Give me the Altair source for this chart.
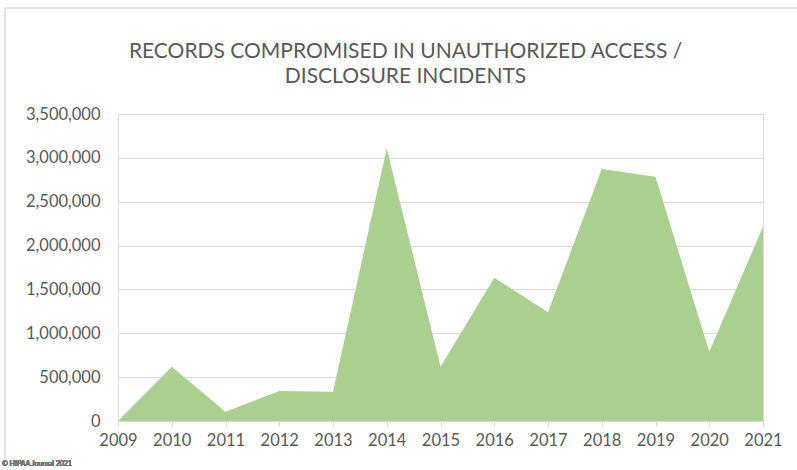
import altair as alt
import pandas as pd

years = [2009, 2010, 2011, 2012, 2013, 2014, 2015, 2016, 2017, 2018, 2019, 2020, 2021]
records = [0, 619000, 106000, 342000, 334000, 3109000, 619000, 1634000, 1239000,
           2873000, 2785000, 790000, 2215000]
y_ticks = [0, 500000, 1000000, 1500000, 2000000, 2500000, 3000000, 3500000]

df = pd.DataFrame({"year": years, "records": records})

FONT = "Lato"
GREY = "#595959"

base = alt.Chart(df)

area = base.mark_area(color="#a9d08e", opacity=1, interpolate="linear").encode(
    x=alt.X("year:Q",
            scale=alt.Scale(domain=[2009, 2021], nice=False, zero=False),
            axis=alt.Axis(values=years, format="d", title=None, grid=False,
                          domain=True, domainColor="#d9d9d9", domainWidth=1,
                          ticks=True, tickColor="#d9d9d9", tickSize=5,
                          labelPadding=6, labelFontSize=16.5, labelColor=GREY,
                          labelFont=FONT, labelOverlap=False, labelFlush=False)),
    y=alt.Y("records:Q",
            scale=alt.Scale(domain=[0, 3500000], nice=False),
            axis=alt.Axis(values=y_ticks, format=",d", title=None, grid=True,
                          gridColor="#d9d9d9", gridWidth=1, domain=False,
                          ticks=False, labelPadding=18, labelFontSize=16.5,
                          labelColor=GREY, labelFont=FONT, labelOverlap=False)),
)

frame_top = base.mark_rule(color="#e2e2e2", strokeWidth=2).encode(
    x=alt.value(-113), x2=alt.value(700), y=alt.value(-106))
frame_left = base.mark_rule(color="#e2e2e2", strokeWidth=2).encode(
    x=alt.value(-113), y=alt.value(-106), y2=alt.value(344))

credit = base.mark_text(align="left", baseline="alphabetic", fontSize=7,
                        font=FONT, color="#777777").encode(
    x=alt.value(-116), y=alt.value(352), text=alt.value("© HIPAA Journal 2021"))

chart = alt.layer(area, frame_top, frame_left, credit).properties(
    width=645,
    height=307,
    title=alt.TitleParams(
        text=["RECORDS COMPROMISED IN UNAUTHORIZED ACCESS /", "DISCLOSURE INCIDENTS"],
        font=FONT, fontSize=21, fontWeight="normal", color=GREY,
        anchor="middle", frame="group", dx=-35, offset=-80, lineHeight=25),
    autosize=alt.AutoSizeParams(type="none"),
    padding={"left": 118, "top": 114, "right": 34, "bottom": 49},
).configure_view(stroke=None).configure(background="white")

chart.save("out.html", embed_options={"renderer": "svg", "actions": False})
